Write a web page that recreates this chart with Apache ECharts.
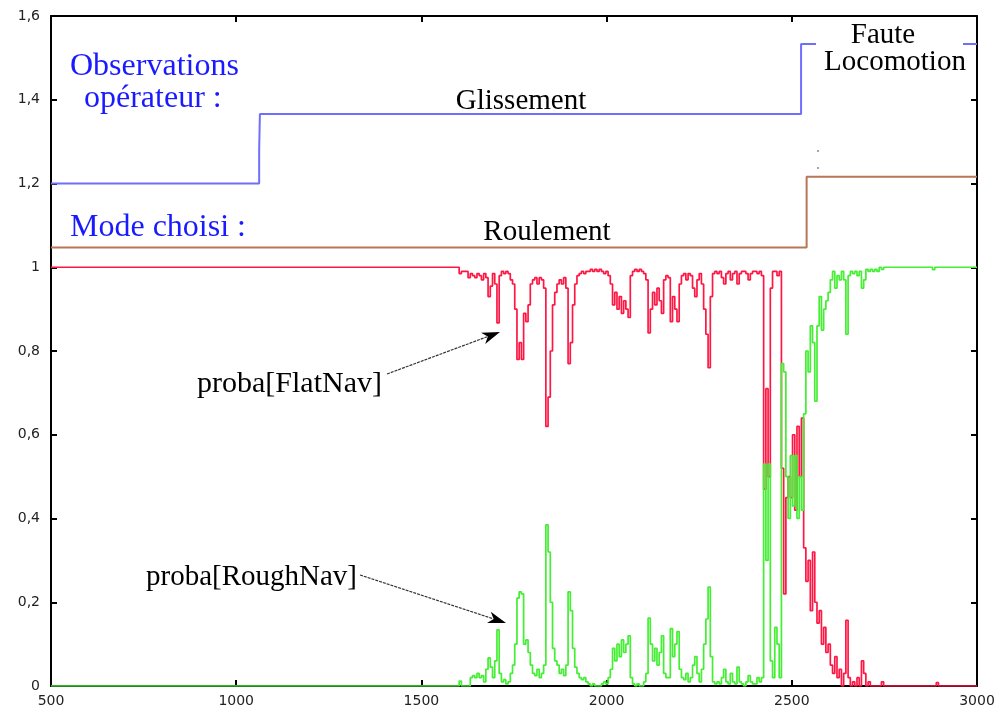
<!DOCTYPE html>
<html>
<head>
<meta charset="utf-8">
<script src="https://cdn.jsdelivr.net/npm/echarts@6/dist/echarts.min.js"></script>
<style>html,body{margin:0;padding:0;background:#fff;}#c{width:1003px;height:717px;}</style>
</head>
<body>
<div id="c"></div>
<script>
// Axis ticks
const xTicks = [500, 1000, 1500, 2000, 2500, 3000];
const yTicks = [0, 0.2, 0.4, 0.6, 0.8, 1, 1.2, 1.4, 1.6];

// Step series: operator observations and chosen mode
const observations = [[500, 1.2], [1062, 1.2], [1062, 1.28], [1064, 1.28], [1064, 1.366], [2525, 1.366], [2525, 1.533], [3000, 1.533]];
const modeChoisi = [[500, 1.047], [2540, 1.047], [2540, 1.216], [3000, 1.216]];

// Noisy region sampling: starts at 1590, one sample every 6 units
const noiseStart = 1590;
const noiseStep = 6;

const flatNavHead = [[500, 1], [1584, 1]];
const flatNav = [
 1.0,1.0,0.985,0.99,0.99,0.99,0.975,0.985,0.98,0.975,
 0.985,0.98,0.97,0.985,0.975,0.93,0.955,0.985,0.96,0.867,
 0.98,0.99,0.985,0.99,0.985,0.97,0.96,0.9,0.78,0.82,
 0.78,0.89,0.87,0.91,0.96,0.97,0.975,0.96,0.975,0.97,
 0.95,0.62,0.69,0.8,0.91,0.94,0.96,0.97,0.96,0.975,
 0.95,0.77,0.82,0.91,0.96,0.98,0.985,0.99,0.985,0.99,
 0.99,0.995,0.99,0.995,0.99,0.995,0.99,0.985,0.99,0.98,
 0.96,0.91,0.94,0.9,0.93,0.89,0.92,0.9,0.88,0.98,
 0.99,0.995,0.99,0.995,0.99,0.985,0.97,0.843,0.9,0.94,
 0.91,0.95,0.92,0.89,0.97,0.98,0.975,0.87,0.93,0.9,
 0.87,0.96,0.98,0.985,0.97,0.985,0.98,0.95,0.93,0.97,
 0.985,0.96,0.9,0.84,0.76,0.93,0.985,0.99,0.985,0.99,
 0.975,0.96,0.985,0.99,0.97,0.985,0.99,0.96,0.985,0.99,
 0.99,0.985,0.97,0.985,0.99,0.99,0.985,0.99,0.98,0.47,
 0.71,0.5,0.95,0.99,0.99,0.98,0.99,0.52,0.22,0.45,
 0.5,0.45,0.6,0.42,0.62,0.5,0.64,0.33,0.25,0.3,
 0.18,0.32,0.2,0.15,0.18,0.1,0.14,0.08,0.1,0.05,
 0.03,0.07,0.02,0.04,0.0,0.03,0.157,0.02,0.0,0.01,
 0.0,0.02,0.0,0.06,0.03,0.0,0.01,0.0,0.0,0.0,
 0.0,0.0,0.01,0.0
];
const flatNavTail = [[2760, 0], [2884, 0], [2890, 0.008], [2896, 0], [3000, 0]];

const roughNavHead = [[500, 0], [1584, 0]];
const roughNav = [
 0.0,0.0,0.012,0.0,0.0,0.0,0.0,0.02,0.025,0.02,
 0.03,0.02,0.025,0.01,0.04,0.067,0.045,0.02,0.06,0.134,
 0.03,0.01,0.015,0.005,0.01,0.03,0.05,0.1,0.21,0.225,
 0.22,0.1,0.11,0.08,0.05,0.03,0.025,0.04,0.02,0.03,
 0.05,0.385,0.32,0.2,0.09,0.06,0.05,0.03,0.04,0.025,
 0.05,0.225,0.18,0.09,0.045,0.03,0.02,0.015,0.02,0.01,
 0.005,0.0,0.005,0.0,0.0,0.0,0.005,0.01,0.005,0.02,
 0.04,0.09,0.06,0.1,0.07,0.11,0.08,0.1,0.12,0.02,
 0.005,0.0,0.005,0.0,0.0,0.01,0.03,0.162,0.1,0.06,
 0.09,0.05,0.08,0.12,0.03,0.02,0.02,0.137,0.07,0.1,
 0.13,0.04,0.02,0.015,0.03,0.01,0.02,0.05,0.07,0.03,
 0.01,0.04,0.1,0.16,0.236,0.07,0.01,0.005,0.01,0.005,
 0.02,0.04,0.01,0.005,0.03,0.01,0.005,0.045,0.01,0.005,
 0.0,0.01,0.025,0.01,0.005,0.005,0.02,0.01,0.02,0.53,
 0.3,0.53,0.06,0.02,0.14,0.1,0.02,0.77,0.75,0.5,
 0.4,0.55,0.43,0.55,0.4,0.5,0.42,0.65,0.8,0.75,
 0.86,0.82,0.68,0.86,0.93,0.85,0.9,0.92,0.94,0.97,
 0.99,0.95,0.98,0.97,0.99,0.97,0.84,0.98,0.99,0.985,
 0.99,0.98,0.99,0.95,0.97,0.995,0.99,0.995,0.99,0.995,
 0.99,1.0,0.995,1.0
];
const roughNavTail = [[2760, 1], [2874, 1], [2880, 0.994], [2886, 1], [3000, 1]];

// Annotations
const labelObs = ['Observations', 'opérateur :'];
const labelMode = 'Mode choisi :';
const labelGliss = 'Glissement';
const labelRoul = 'Roulement';
const labelFaute = ['Faute', 'Locomotion'];
const labelFlat = 'proba[FlatNav]';
const labelRough = 'proba[RoughNav]';

function withX(head, vals, tail) {
  const out = head.slice();
  vals.forEach((v, i) => out.push([noiseStart + i * noiseStep, v]));
  return out.concat(tail);
}

const chart = echarts.init(document.getElementById('c'), null, {renderer: 'canvas'});

const serif = '"Liberation Serif", "DejaVu Serif", serif';
const tickFont = '"DejaVu Sans", sans-serif';
const frameColor = '#000';

function fmtY(v) {
  const r = Math.round(v * 10) / 10;
  return String(r).replace('.', ',');
}

function arrow(x1, y1, x2, y2) {
  const dx = x2 - x1, dy = y2 - y1;
  const len = Math.sqrt(dx * dx + dy * dy);
  const ux = dx / len, uy = dy / len;
  const hl = 18, hw = 6;
  const bx = x2 - ux * hl, by = y2 - uy * hl;
  const nx = -uy, ny = ux;
  return [
    {type: 'line', z: 100, shape: {x1: x1, y1: y1, x2: bx + ux * 4, y2: by + uy * 4}, style: {stroke: '#333', lineWidth: 1.2, lineDash: [3, 1]}},
    {type: 'polygon', z: 100, shape: {points: [[x2, y2], [bx + nx * hw, by + ny * hw], [bx + ux * 5, by + uy * 5], [bx - nx * hw, by - ny * hw]]}, style: {fill: '#000'}}
  ];
}

const blueFont = '32px ' + serif;
const blackFont = '29px ' + serif;

const graphics = [
  {type: 'rect', z: 90, shape: {x: 816, y: 22, width: 147, height: 54}, style: {fill: '#fff'}},
  {type: 'text', z: 100, x: 70, y: 67, style: {text: labelObs[0], font: blueFont, fill: '#1a1aff', textVerticalAlign: 'middle'}},
  {type: 'text', z: 100, x: 84, y: 99, style: {text: labelObs[1], font: blueFont, fill: '#1a1aff', textVerticalAlign: 'middle'}},
  {type: 'text', z: 100, x: 70, y: 228, style: {text: labelMode, font: blueFont, fill: '#1a1aff', textVerticalAlign: 'middle'}},
  {type: 'text', z: 100, x: 521, y: 101, style: {text: labelGliss, font: blackFont, fill: '#000', textAlign: 'center', textVerticalAlign: 'middle'}},
  {type: 'text', z: 100, x: 547, y: 232, style: {text: labelRoul, font: blackFont, fill: '#000', textAlign: 'center', textVerticalAlign: 'middle'}},
  {type: 'text', z: 100, x: 883, y: 35, style: {text: labelFaute[0], font: blackFont, fill: '#000', textAlign: 'center', textVerticalAlign: 'middle'}},
  {type: 'text', z: 100, x: 895, y: 62, style: {text: labelFaute[1], font: blackFont, fill: '#000', textAlign: 'center', textVerticalAlign: 'middle'}},
  {type: 'text', z: 100, x: 197, y: 384, style: {text: labelFlat, font: '30px ' + serif, fill: '#000', textAlign: 'left', textVerticalAlign: 'middle'}},
  {type: 'text', z: 100, x: 146, y: 577, style: {text: labelRough, font: '29px ' + serif, fill: '#000', textAlign: 'left', textVerticalAlign: 'middle'}},
  {type: 'circle', z: 100, shape: {cx: 818, cy: 151, r: 0.8}, style: {fill: '#333'}},
  {type: 'circle', z: 100, shape: {cx: 818, cy: 168, r: 0.8}, style: {fill: '#333'}}
].concat(arrow(387, 374, 500, 332), arrow(360, 575, 506, 623));

const axisCommon = {
  type: 'value', min: 500, max: 3000, interval: 500,
  axisLine: {show: true, onZero: false, lineStyle: {color: frameColor, width: 2}},
  axisTick: {show: true, inside: true, length: 6, lineStyle: {color: frameColor, width: 2}},
  splitLine: {show: false}
};
const yCommon = {
  type: 'value', min: 0, max: 1.6, interval: 0.2,
  axisLine: {show: true, onZero: false, lineStyle: {color: frameColor, width: 2}},
  axisTick: {show: true, inside: true, length: 6, lineStyle: {color: frameColor, width: 2}},
  splitLine: {show: false}
};

chart.setOption({
  animation: false,
  backgroundColor: '#fff',
  grid: {left: 51, right: 26, top: 16, bottom: 31, containLabel: false},
  xAxis: [
    Object.assign({}, axisCommon, {position: 'bottom', axisLabel: {show: true, margin: 8, color: '#222', fontSize: 14, fontFamily: tickFont, formatter: v => xTicks.includes(v) ? String(v) : ''}}),
    Object.assign({}, axisCommon, {position: 'top', axisLabel: {show: false}})
  ],
  yAxis: [
    Object.assign({}, yCommon, {position: 'left', axisLabel: {show: true, margin: 11, color: '#222', fontSize: 14, fontFamily: tickFont, formatter: v => fmtY(v)}}),
    Object.assign({}, yCommon, {position: 'right', axisLabel: {show: false}})
  ],
  series: [
    {type: 'line', name: 'observations', data: observations, showSymbol: false, lineStyle: {color: '#6f6fff', width: 2}, z: 3},
    {type: 'line', name: 'mode', data: modeChoisi, showSymbol: false, lineStyle: {color: '#b87558', width: 2}, z: 3},
    {type: 'line', name: 'proba[FlatNav]', data: withX(flatNavHead, flatNav, flatNavTail), step: 'end', showSymbol: false, lineStyle: {color: '#ff1744', width: 1.7}, z: 4},
    {type: 'line', name: 'proba[RoughNav]', data: withX(roughNavHead, roughNav, roughNavTail), step: 'end', showSymbol: false, lineStyle: {color: '#44ee33', width: 1.7}, z: 5}
  ],
  graphic: graphics
});
</script>
</body>
</html>
